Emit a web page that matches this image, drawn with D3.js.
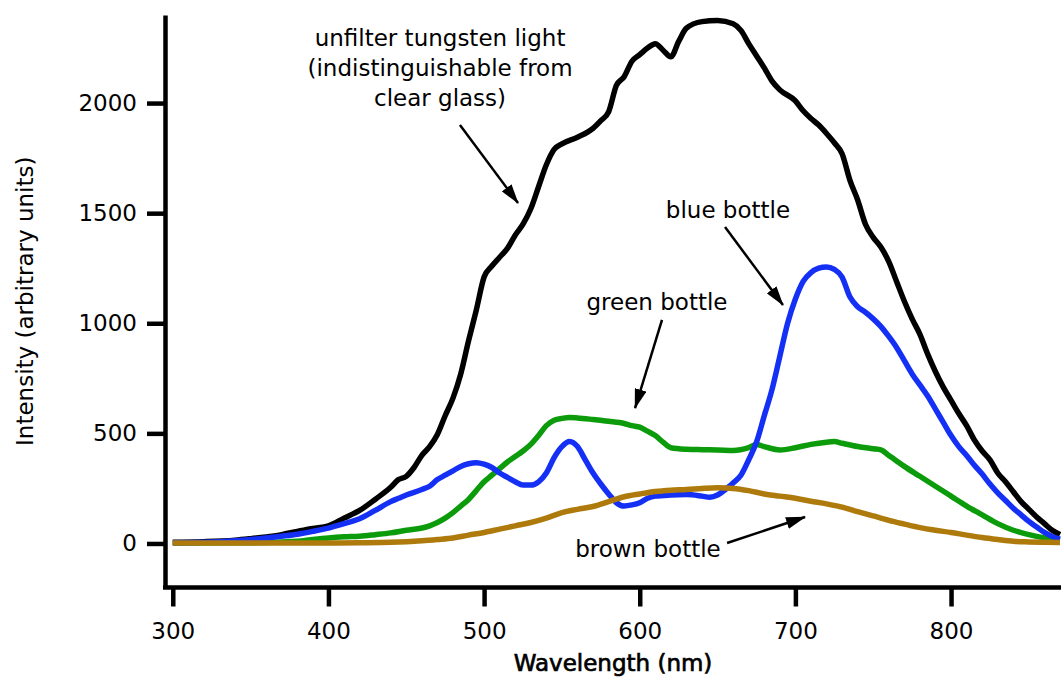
<!DOCTYPE html>
<html>
<head>
<meta charset="utf-8">
<script src="https://cdn.jsdelivr.net/npm/d3@7"></script>
<style>
  body { margin: 0; background: #fff; }
  svg { display: block; font-family: "DejaVu Sans", Verdana, sans-serif; }
  .axis path, .axis line { stroke: #000; }
  .axis text { font-family: "DejaVu Sans", Verdana, sans-serif; font-size: 23px; fill: #000; }
  .note { font-size: 23px; fill: #000; }
</style>
</head>
<body>
<div id="chart"></div>
<script>
// spectra: [wavelength nm, intensity]
var tungsten = [
  [300,5],[320,8],[340,15],[350,22],[360,30],[370,40],[380,55],[390,68],[400,80],[410,115],
  [420,150],[430,200],[440,255],[445,290],[450,305],[455,345],[460,400],[465,440],[470,495],
  [475,580],[480,660],[485,770],[490,920],[495,1060],[500,1210],[505,1260],[510,1300],[515,1340],
  [520,1400],[525,1450],[530,1520],[535,1620],[540,1720],[545,1790],[550,1815],[560,1845],
  [570,1885],[575,1920],[580,1960],[585,2080],[590,2120],[595,2190],[600,2220],[605,2250],
  [610,2270],[615,2240],[620,2210],[625,2280],[630,2340],[640,2370],[650,2375],[660,2360],
  [665,2330],[670,2270],[675,2215],[680,2160],[685,2100],[690,2060],[700,2010],[705,1965],
  [710,1930],[715,1900],[720,1862],[725,1820],[730,1770],[735,1650],[740,1560],[745,1450],
  [750,1390],[755,1345],[760,1280],[765,1190],[770,1100],[775,1020],[780,950],[785,860],
  [790,780],[795,710],[800,650],[805,590],[810,535],[815,470],[820,420],[825,380],[830,320],
  [835,280],[840,235],[845,190],[850,155],[855,120],[860,90],[865,60],[870,40]
];
var blueBottle = [
  [300,3],[320,5],[340,12],[350,18],[360,25],[370,33],[380,42],[390,55],[400,70],[410,90],
  [420,112],[430,150],[440,190],[445,205],[450,220],[460,245],[465,260],[470,290],[475,310],
  [480,330],[485,350],[490,362],[495,367],[500,360],[505,345],[510,320],[515,300],[520,280],
  [525,265],[530,265],[535,280],[540,320],[545,390],[550,440],[555,463],[560,440],[565,380],
  [570,320],[575,270],[580,225],[585,185],[590,170],[595,175],[600,185],[605,205],[610,215],
  [620,220],[630,222],[640,215],[645,210],[650,220],[655,245],[660,275],[665,310],[670,380],
  [675,460],[680,580],[685,700],[690,850],[695,1000],[700,1110],[705,1190],[710,1230],
  [715,1250],[720,1256],[725,1245],[730,1210],[735,1120],[740,1075],[745,1050],[750,1020],
  [755,985],[760,940],[765,890],[770,830],[775,770],[780,720],[785,670],[790,610],[795,550],
  [800,490],[805,440],[810,400],[815,355],[820,315],[825,270],[830,230],[835,195],[840,160],
  [845,130],[850,100],[855,75],[860,50],[865,32],[870,20]
];
var greenBottle = [
  [300,2],[350,3],[380,10],[390,18],[400,25],[410,30],[420,33],[430,40],[440,48],[450,60],
  [460,70],[465,80],[470,95],[475,115],[480,140],[485,170],[490,200],[495,240],[500,280],
  [505,310],[510,340],[515,370],[520,395],[525,420],[530,450],[535,490],[540,535],[545,560],
  [550,568],[555,572],[560,570],[570,563],[580,555],[590,545],[595,535],[600,528],[605,510],
  [610,490],[615,460],[620,435],[630,428],[640,426],[650,425],[660,422],[670,435],[675,449],
  [680,440],[690,425],[700,435],[710,450],[720,460],[725,463],[730,455],[740,440],[750,430],
  [755,425],[760,400],[765,375],[770,350],[780,305],[790,260],[800,215],[810,170],[820,130],
  [830,90],[840,60],[850,40],[860,25],[870,15]
];
var brownBottle = [
  [300,2],[350,2],[400,2],[420,3],[440,5],[460,12],[470,18],[480,25],[490,38],[500,50],
  [510,65],[520,80],[530,95],[540,115],[550,140],[560,155],[570,168],[580,190],[590,212],
  [600,225],[610,236],[620,242],[630,245],[640,250],[650,253],[660,250],[670,240],[680,225],
  [690,215],[700,205],[710,192],[720,180],[730,165],[740,145],[750,125],[760,105],[770,88],
  [780,72],[790,60],[800,50],[810,38],[820,27],[830,18],[840,10],[850,7],[860,5],[870,4]
];

var xTicks = [300, 400, 500, 600, 700, 800]
var yTicks = [0, 500, 1000, 1500, 2000]

// annotation text and arrows, in data units
var noteLines = ["unfilter tungsten light", "(indistinguishable from", "clear glass)"]
var notes = [
  { text: "blue bottle", nm: 656.7, v: 1514 },
  { text: "green bottle", nm: 611.1, v: 1097 },
  { text: "brown bottle", nm: 605.3, v: -25 }
]
var arrows = [
  [[484.5, 1900], [521.8, 1546]],
  [[654.8, 1437], [692.0, 1083]],
  [[614.3, 1015], [597.0, 615]],
  [[656.1, 2], [706.2, 120]]
]

var width = 1061, height = 677

var svg = d3.select("#chart").append("svg")
  .attr("width", width)
  .attr("height", height)

var x = d3.scaleLinear().domain([295, 870]).range([165, 1060])
var y = d3.scaleLinear().domain([-200, 2400]).range([587.5, 15])

svg.append("defs").append("clipPath").attr("id", "plot")
  .append("rect")
  .attr("x", x(295)).attr("y", 0)
  .attr("width", x(870) - x(295) + 2).attr("height", y(-200))

var line = d3.line()
  .x(function(d) { return x(d[0]) })
  .y(function(d) { return y(d[1]) })
  .curve(d3.curveMonotoneX)

var series = [
  { data: tungsten, color: "#000000" },
  { data: greenBottle, color: "#0b9b0b" },
  { data: blueBottle, color: "#1530f5" },
  { data: brownBottle, color: "#ae7a0c" }
]

svg.append("g").attr("clip-path", "url(#plot)")
  .selectAll(".spectrum")
  .data(series)
  .enter().append("path")
  .attr("class", "spectrum")
  .attr("d", function(d) { return line(d.data) })
  .attr("fill", "none")
  .attr("stroke", function(d) { return d.color })
  .attr("stroke-width", 5.5)
  .attr("stroke-linejoin", "round")

// axes
var yAxis = svg.append("g")
  .attr("class", "axis")
  .attr("transform", "translate(" + x(295) + ",0)")
  .call(d3.axisLeft(y).tickValues(yTicks).tickFormat(d3.format("d"))
    .tickSize(18).tickSizeOuter(0).tickPadding(10))
yAxis.selectAll("path, line").attr("stroke-width", 4.5)

var xAxis = svg.append("g")
  .attr("class", "axis")
  .attr("transform", "translate(0," + y(-200) + ")")
  .call(d3.axisBottom(x).tickValues(xTicks).tickFormat(d3.format("d"))
    .tickSize(19).tickSizeOuter(0).tickPadding(16))
xAxis.selectAll("path, line").attr("stroke-width", 4.5)
xAxis.select(".domain").attr("d", "M" + (x(295) - 2) + ",0H" + width)

svg.append("text")
  .attr("class", "note")
  .attr("transform", "translate(25," + y(1100) + ") rotate(-90)")
  .attr("text-anchor", "middle")
  .attr("dy", "0.35em")
  .text("Intensity (arbitrary units)")

// x title is a little heavier in the original
svg.append("text")
  .attr("class", "note")
  .attr("x", (x(295) + width) / 2)
  .attr("y", 663)
  .attr("dy", "0.35em")
  .attr("text-anchor", "middle")
  .attr("stroke", "#000")
  .attr("stroke-width", 0.7)
  .text("Wavelength (nm)")

// annotations
svg.select("defs").append("marker")
  .attr("id", "head")
  .attr("markerUnits", "userSpaceOnUse")
  .attr("viewBox", "0 0 20 12")
  .attr("refX", 19).attr("refY", 6)
  .attr("markerWidth", 20).attr("markerHeight", 12)
  .attr("orient", "auto")
  .append("path")
  .attr("d", "M0,0L20,6L0,12Z")
  .attr("fill", "#000")

svg.selectAll(".tungsten-note")
  .data(noteLines)
  .enter().append("text")
  .attr("class", "note")
  .attr("x", x(471.7))
  .attr("y", function(d, i) { return y(2296) + i * 30 })
  .attr("dy", "0.35em")
  .attr("text-anchor", "middle")
  .text(function(d) { return d })

svg.selectAll(".bottle-note")
  .data(notes)
  .enter().append("text")
  .attr("class", "note")
  .attr("x", function(d) { return x(d.nm) })
  .attr("y", function(d) { return y(d.v) })
  .attr("dy", "0.35em")
  .attr("text-anchor", "middle")
  .text(function(d) { return d.text })

svg.selectAll(".arrow")
  .data(arrows)
  .enter().append("line")
  .attr("class", "arrow")
  .attr("x1", function(d) { return x(d[0][0]) })
  .attr("y1", function(d) { return y(d[0][1]) })
  .attr("x2", function(d) { return x(d[1][0]) })
  .attr("y2", function(d) { return y(d[1][1]) })
  .attr("stroke", "#000")
  .attr("stroke-width", 2.5)
  .attr("marker-end", "url(#head)")
</script>
</body>
</html>
